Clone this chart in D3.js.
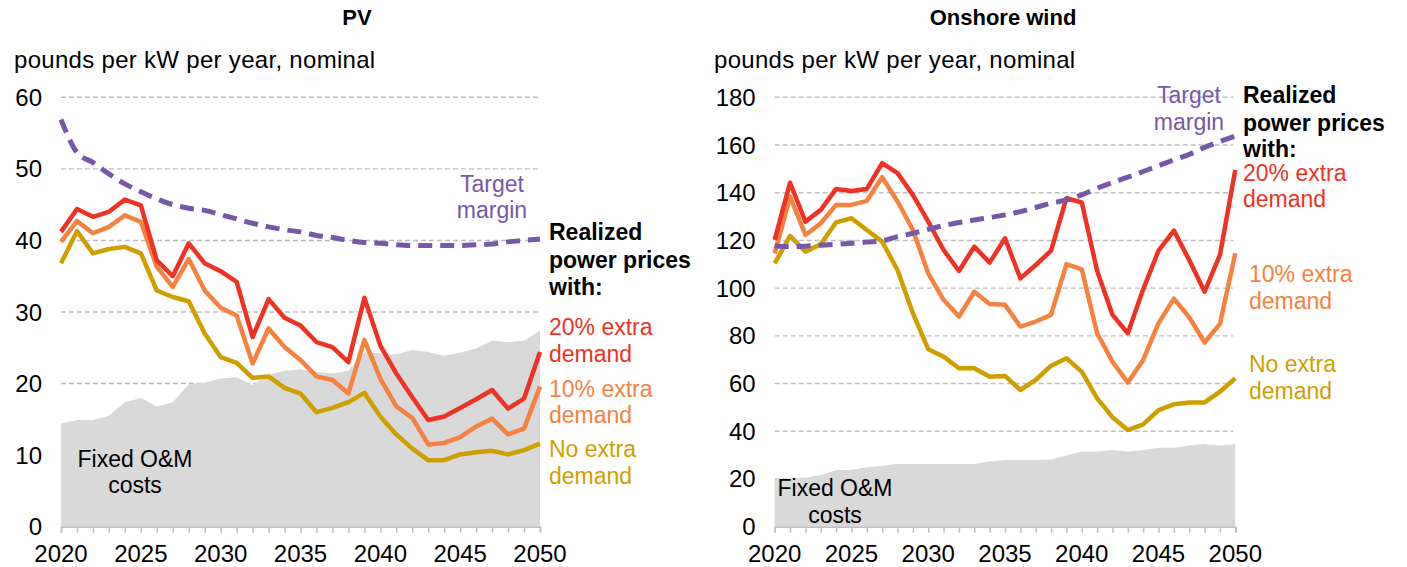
<!DOCTYPE html>
<html>
<head>
<meta charset="utf-8">
<script src="https://cdn.jsdelivr.net/npm/d3@7"></script>
<style>
  body { margin: 0; background: #fff; }
  svg text { font-family: "Liberation Sans", Arial, sans-serif; }
</style>
</head>
<body>
<svg id="chart" width="1407" height="567"></svg>
<script>
// Data
// ----
const years = d3.range(2020, 2051);
const yearTicks = [2020, 2025, 2030, 2035, 2040, 2045, 2050];

// PV (pounds per kW per year)
const pvTicks = [0, 10, 20, 30, 40, 50, 60];
const pvFixedOM = [14.4, 14.9, 14.9, 15.5, 17.4, 18.0, 16.8, 17.4, 19.9, 20.1, 20.7, 20.9, 19.8, 21.2, 21.8,
                   22.0, 21.6, 21.4, 21.8, 24.4, 24.2, 24.1, 24.7, 24.4, 23.9, 24.3, 24.9, 26.0, 25.8, 26.0, 27.4];
const pvTarget = [56.9, 52.3, 50.9, 49.3, 47.9, 46.8, 45.8, 45.0, 44.5, 44.2, 43.6, 43.0, 42.4, 41.9, 41.5,
                  41.2, 40.7, 40.4, 40.0, 39.7, 39.6, 39.4, 39.3, 39.3, 39.3, 39.3, 39.4, 39.5, 39.8, 40.0, 40.2];
const pvExtra20 = [41.2, 44.4, 43.3, 44.0, 45.7, 44.9, 37.2, 35.0, 39.6, 36.8, 35.7, 34.2, 26.5, 31.8, 29.2,
                   28.1, 25.8, 25.1, 23.0, 32.0, 25.3, 21.4, 18.1, 14.9, 15.4, 16.6, 17.8, 19.1, 16.5, 17.9, 24.4];
const pvExtra10 = [39.8, 42.7, 41.0, 41.9, 43.5, 42.6, 36.3, 33.5, 37.4, 33.0, 30.6, 29.5, 22.8, 27.7, 25.1,
                   23.3, 21.0, 20.5, 18.6, 26.1, 20.7, 16.8, 15.2, 11.5, 11.7, 12.5, 14.0, 15.1, 12.9, 13.7, 19.6];
const pvNoExtra = [36.8, 41.3, 38.2, 38.8, 39.1, 38.2, 33.0, 32.1, 31.5, 27.0, 23.7, 22.9, 20.8, 21.0, 19.4,
                   18.6, 16.0, 16.6, 17.4, 18.7, 15.4, 12.9, 10.9, 9.3, 9.3, 10.1, 10.4, 10.6, 10.1, 10.7, 11.6];

// Onshore wind
const windTicks = [0, 20, 40, 60, 80, 100, 120, 140, 160, 180];
const windFixedOM = [19.6, 20.5, 20.5, 21.7, 23.8, 23.8, 24.9, 25.6, 26.3, 26.3, 26.3, 26.3, 26.3, 26.3, 27.3,
                     28.0, 28.0, 28.0, 28.2, 29.8, 31.5, 31.5, 32.2, 31.5, 32.2, 33.1, 33.1, 34.0, 34.7, 34.0, 34.7];
const windTarget = [117.8, 117.4, 117.6, 118.0, 118.4, 118.8, 119.3, 119.8, 121.6, 123.0, 124.7, 126.2, 127.5, 128.6, 129.6,
                    130.7, 132.1, 133.8, 135.6, 137.0, 139.1, 141.9, 144.3, 146.5, 148.9, 151.3, 153.8, 156.1, 159.0, 161.5, 163.8];
const windExtra20 = [120.2, 144.2, 127.9, 132.8, 141.6, 140.7, 141.6, 152.4, 148.2, 139.1, 127.9, 116.0, 107.2, 117.4, 110.7,
                     120.9, 104.1, 109.7, 115.7, 137.7, 135.9, 107.3, 88.8, 81.1, 99.5, 115.7, 124.1, 111.8, 98.5, 113.9, 149.6];
const windExtra10 = [114.6, 138.4, 122.3, 127.2, 134.9, 134.9, 136.6, 146.5, 136.3, 124.4, 106.2, 95.1, 88.1, 98.5, 93.4,
                     93.0, 83.9, 86.0, 88.8, 110.1, 107.9, 81.1, 69.2, 60.4, 69.9, 85.3, 95.6, 87.8, 77.2, 85.0, 114.6];
const windNoExtra = [110.4, 121.9, 115.3, 118.4, 127.6, 129.3, 124.4, 119.5, 107.6, 89.5, 74.4, 71.3, 66.4, 66.4, 62.9,
                     63.2, 57.3, 61.5, 67.5, 70.6, 65.0, 53.8, 45.9, 40.5, 42.9, 48.9, 51.3, 52.1, 52.1, 56.6, 62.2];

// Colours
const RED = "#ee3224", ORANGE = "#f5823f", GOLD = "#cf9f00", PURPLE = "#7757a8", GREY_AREA = "#d9d9d9";

const svg = d3.select("#chart");

// Panel
// -----
function drawPanel(p) {
  const g = svg.append("g");
  const x = d3.scaleLinear().domain([2020, 2050]).range(p.xRange);
  const y = d3.scaleLinear().domain([0, p.yMax]).range([526.7, 97.3]);

  // title + unit
  g.append("text").attr("x", p.titleX).attr("y", 25)
    .attr("text-anchor", "middle").attr("font-size", 22).attr("font-weight", "bold")
    .text(p.title);
  g.append("text").attr("x", p.unitX).attr("y", 68).attr("font-size", 24)
    .attr("letter-spacing", 0.3)
    .text("pounds per kW per year, nominal");

  // gridlines (behind the area)
  g.selectAll(".grid").data(p.yTicks.filter(d => d > 0)).join("line")
    .attr("x1", p.xRange[0]).attr("x2", p.xRange[1] - 2)
    .attr("y1", d => y(d)).attr("y2", d => y(d))
    .attr("stroke", "#bfbfbf").attr("stroke-width", 1.4).attr("stroke-dasharray", "5,3");

  // y tick labels
  g.selectAll(".ylab").data(p.yTicks).join("text")
    .attr("x", p.xRange[0] - 19).attr("y", d => y(d) + 8.5)
    .attr("text-anchor", "end").attr("font-size", 24)
    .text(d => d);

  // fixed O&M area
  const area = d3.area().x((d, i) => x(years[i])).y0(y(0)).y1(d => y(d));
  g.append("path").datum(p.fixedOM).attr("d", area).attr("fill", GREY_AREA);

  // x axis
  const xAxis = d3.axisBottom(x).tickValues(years).tickSize(6).tickFormat("");
  const ax = g.append("g").attr("transform", `translate(0,${y(0)})`).call(xAxis);
  ax.select(".domain").attr("stroke", "#bfbfbf").attr("stroke-width", 1.5);
  ax.selectAll(".tick line").attr("stroke", "#bfbfbf").attr("stroke-width", 1.5);
  g.selectAll(".xlab").data(yearTicks).join("text")
    .attr("x", d => x(d)).attr("y", 562)
    .attr("text-anchor", "middle").attr("font-size", 24)
    .text(d => d);

  // lines
  const line = d3.line().x((d, i) => x(years[i])).y(d => y(d));
  [[p.noExtra, GOLD], [p.extra10, ORANGE], [p.extra20, RED]].forEach(([s, c]) => {
    g.append("path").datum(s).attr("d", line).attr("fill", "none")
      .attr("stroke", c).attr("stroke-width", 4.5).attr("stroke-linejoin", "round");
  });
  g.append("path").datum(p.target).attr("d", line.curve(d3.curveMonotoneX)).attr("fill", "none")
    .attr("stroke", PURPLE).attr("stroke-width", 5).attr("stroke-dasharray", "14,8");

  // labels
  const label = (txt, lx, ly, col, anchor, bold) =>
    g.append("text").attr("x", lx).attr("y", ly).attr("font-size", 23)
      .attr("fill", col).attr("text-anchor", anchor || "start")
      .attr("font-weight", bold ? "bold" : "normal").text(txt);

  p.labels.forEach(l => label(l[0], l[1], l[2], l[3], l[4], l[5]));
}

drawPanel({
  title: "PV", titleX: 357, unitX: 14,
  xRange: [61, 540], yMax: 60, yTicks: pvTicks,
  fixedOM: pvFixedOM, target: pvTarget,
  extra20: pvExtra20, extra10: pvExtra10, noExtra: pvNoExtra,
  labels: [
    ["Target", 492, 192, PURPLE, "middle"],
    ["margin", 492, 218, PURPLE, "middle"],
    ["Realized", 549, 240, "#000", "start", true],
    ["power prices", 549, 268, "#000", "start", true],
    ["with:", 549, 295, "#000", "start", true],
    ["20% extra", 549, 335, RED],
    ["demand", 549, 362, RED],
    ["10% extra", 549, 397, ORANGE],
    ["demand", 549, 423, ORANGE],
    ["No extra", 549, 457, GOLD],
    ["demand", 549, 484, GOLD],
    ["Fixed O&M", 135, 467, "#000", "middle"],
    ["costs", 135, 493, "#000", "middle"]
  ]
});

drawPanel({
  title: "Onshore wind", titleX: 1003, unitX: 714,
  xRange: [774.7, 1235.3], yMax: 180, yTicks: windTicks,
  fixedOM: windFixedOM, target: windTarget,
  extra20: windExtra20, extra10: windExtra10, noExtra: windNoExtra,
  labels: [
    ["Target", 1189, 103, PURPLE, "middle"],
    ["margin", 1189, 130, PURPLE, "middle"],
    ["Realized", 1243, 103, "#000", "start", true],
    ["power prices", 1243, 131, "#000", "start", true],
    ["with:", 1243, 157, "#000", "start", true],
    ["20% extra", 1243, 181, RED],
    ["demand", 1243, 207, RED],
    ["10% extra", 1249, 282, ORANGE],
    ["demand", 1249, 309, ORANGE],
    ["No extra", 1249, 372, GOLD],
    ["demand", 1249, 399, GOLD],
    ["Fixed O&M", 835, 496, "#000", "middle"],
    ["costs", 835, 523, "#000", "middle"]
  ]
});
</script>
</body>
</html>
